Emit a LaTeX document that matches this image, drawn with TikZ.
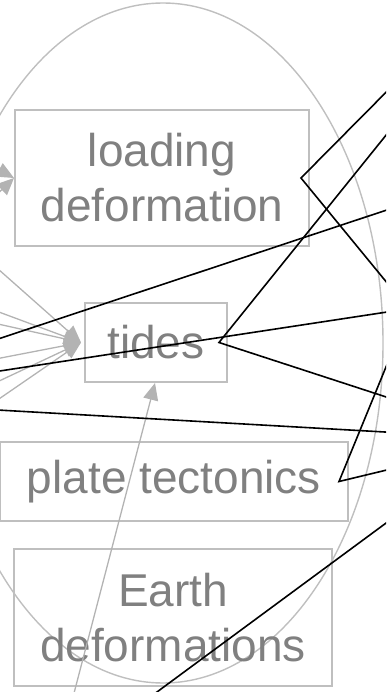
\documentclass[tikz,border=0pt]{standalone}
\usepackage{fontspec}
\setmainfont{Liberation Sans}
\usetikzlibrary{arrows.meta}
\definecolor{boxgray}{HTML}{BFBFBF}
\definecolor{textgray}{HTML}{808080}
\definecolor{feedgray}{HTML}{B3B3B3}
\begin{document}
\begin{tikzpicture}[
      x=1pt, y=-1pt,
      topic/.style={rectangle, draw=boxgray, line width=2pt, text=textgray, align=center, inner sep=0pt, font=\fontsize{46}{55}\selectfont},
      feed/.style={-{Triangle[length=17pt, width=15pt]}, draw=feedgray, line width=1.3pt},
      link/.style={draw=black, line width=1.6pt}
    ]
    \useasboundingbox (0,0) rectangle (386,692);
    \clip (0,0) rectangle (386,692);

    \draw[boxgray, line width=1.4pt] (163,343) ellipse [x radius=220pt, y radius=340pt];

    \node[topic, minimum width=294pt, minimum height=136pt] (load)  at (162,178)   {loading\\deformation};
    \node[topic, minimum width=142pt, minimum height=79pt]  (tides) at (156,342.5) {tides};
    \node[topic, minimum width=348pt, minimum height=79pt]  (plate) at (174,481.5) {plate tectonics};
    \node[topic, minimum width=318pt, minimum height=137pt] (earth) at (173,617.5) {Earth\\deformations};

    \coordinate (g1) at (-20,253);
    \coordinate (g2) at (-20,305);
    \coordinate (g3) at (-20,320);
    \coordinate (g4) at (-20,362);
    \coordinate (g5) at (-20,390);
    \coordinate (g6) at (-20,412);
    \coordinate (g7) at (-30,154);
    \coordinate (g8) at (-30,220);
    \coordinate (g9) at (67,720);

    \draw[feed] (g1) -- ([xshift=-3pt]tides.west);
    \draw[feed] (g2) -- ([xshift=-3pt]tides.west);
    \draw[feed] (g3) -- ([xshift=-3pt]tides.west);
    \draw[feed] (g4) -- ([xshift=-3pt]tides.west);
    \draw[feed] (g5) -- ([xshift=-3pt]tides.west);
    \draw[feed] (g6) -- ([xshift=-3pt]tides.west);
    \draw[feed] (g7) -- (load.west);
    \draw[feed] (g8) -- (load.west);
    \draw[feed] (g9) -- ([xshift=-1pt]tides.south);

    \coordinate (r1) at (420,58);
    \coordinate (r2) at (420,323);
    \coordinate (r3) at (420,93);
    \coordinate (r4) at (420,408);
    \coordinate (r5) at (420,284);
    \coordinate (r6) at (420,462);

    \draw[link] (r1) -- ([xshift=-9pt]load.east) -- (r2);
    \draw[link] (r3) -- ([xshift=-9pt]tides.east) -- (r4);
    \draw[link] (r5) -- ([xshift=-10pt]plate.east) -- (r6);

    \coordinate (l1) at (-20,345);
    \coordinate (m1) at (420,199);
    \coordinate (l2) at (-20,374);
    \coordinate (m2) at (420,307);
    \coordinate (l3) at (-20,409);
    \coordinate (m3) at (420,434);
    \coordinate (l4) at (119,720);
    \coordinate (m4) at (420,498);

    \draw[link] (l1) -- (m1);
    \draw[link] (l2) -- (m2);
    \draw[link] (l3) -- (m3);
    \draw[link] (l4) -- (m4);

  \end{tikzpicture}
\end{document}
